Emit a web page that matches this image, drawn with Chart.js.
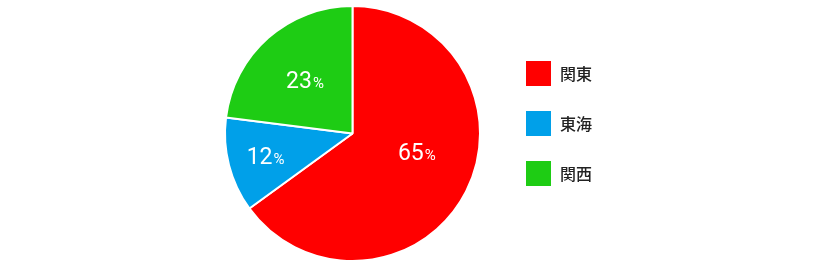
<!DOCTYPE html>
<html lang="ja">
<head>
<meta charset="utf-8">
<title>地域別シェア</title>
<script src="https://cdn.jsdelivr.net/npm/chart.js@4/dist/chart.umd.min.js"></script>
<style>
  html, body { margin: 0; padding: 0; background: #fff; }
  #myChart { display: block; }
</style>
</head>
<body>
<canvas id="myChart" width="820" height="270"></canvas>
<script>
// data
const regions = ["関東", "東海", "関西"];
const shares = [65, 12, 23];
const regionColors = ["#ff0000", "#00a0e9", "#1ecc14"];

// where each percent label sits inside its slice (fraction of radius, angle nudge in degrees)
const labelRadius = [0.524, 0.704, 0.564];
const labelNudge = [-11.3, 0, 0];

const percentLabels = {
    id: 'percentLabels',
    afterDatasetsDraw(chart) {
        const ctx = chart.ctx;
        const arcs = chart.getDatasetMeta(0).data;
        ctx.save();
        ctx.fillStyle = '#ffffff';
        ctx.textBaseline = 'alphabetic';
        ctx.textAlign = 'left';
        arcs.forEach((arc, i) => {
            const mid = (arc.startAngle + arc.endAngle) / 2 + labelNudge[i] * Math.PI / 180;
            const r = arc.outerRadius * labelRadius[i];
            const cx = arc.x + Math.cos(mid) * r;
            const cy = arc.y + Math.sin(mid) * r;

            const num = String(shares[i]);
            ctx.font = '400 23px Roboto';
            const numW = ctx.measureText(num).width;
            ctx.font = '400 15px Roboto';
            const pctW = ctx.measureText('%').width;
            const left = cx - (numW + pctW + 1) / 2;
            const base = cy + 8;

            ctx.font = '400 23px Roboto';
            ctx.fillText(num, left, base);
            ctx.font = '400 15px Roboto';
            ctx.fillText('%', left + numW + 1, base);
        });
        ctx.restore();
    }
};

const ctx = document.getElementById('myChart');
const myChart = new Chart(ctx, {
    type: 'pie',
    data: {
        labels: regions,
        datasets: [{
            data: shares,
            backgroundColor: regionColors,
            borderColor: '#ffffff',
            borderWidth: 2
        }]
    },
    options: {
        responsive: false,
        animation: false,
        layout: {
            padding: { left: 203, right: 218, top: 5, bottom: 8 }
        },
        plugins: {
            tooltip: { enabled: false },
            legend: {
                position: 'right',
                align: 'start',
                title: {
                    // empty title only used as a spacer above the items
                    display: true,
                    text: '',
                    padding: 0,
                    font: { size: 10, lineHeight: '32px' }
                },
                labels: {
                    // white slice border eats 1px each side, so 27 shows as 25
                    boxWidth: 27,
                    boxHeight: 27,
                    padding: 23,
                    color: '#222222',
                    font: { family: '"Noto Sans CJK JP"', size: 16, weight: '500' }
                }
            }
        }
    },
    plugins: [percentLabels]
});
</script>
</body>
</html>
